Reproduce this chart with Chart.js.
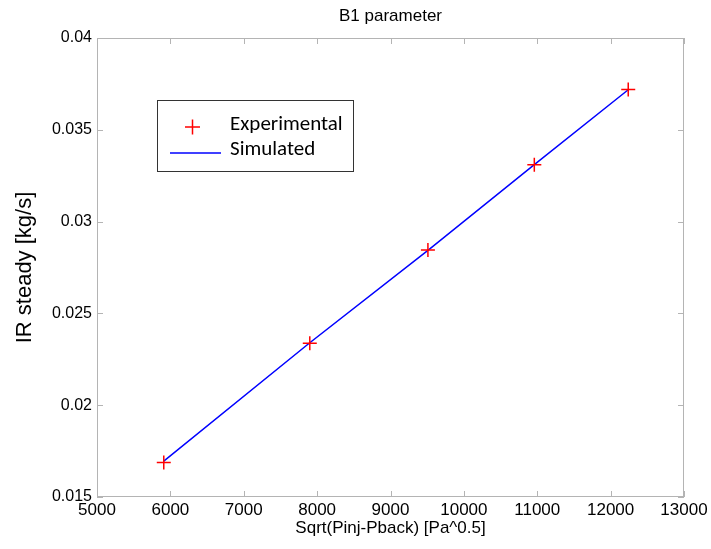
<!DOCTYPE html>
<html>
<head>
<meta charset="utf-8">
<script src="https://cdn.jsdelivr.net/npm/chart.js@4"></script>
<style>
  html, body { margin: 0; padding: 0; background: #fff; }
  #wrap { width: 711px; height: 549px; }
</style>
</head>
<body>
<div id="wrap"><canvas id="myChart" width="711" height="549"></canvas></div>
<script>
// values
const pressureRoot = [5910, 7900, 9510, 10960, 12240];
const experimental = [0.01688, 0.02338, 0.02845, 0.03310, 0.03720];
const simulated = [0.01695, 0.02340, 0.02843, 0.03310, 0.03718];
const xTicks = [5000, 6000, 7000, 8000, 9000, 10000, 11000, 12000, 13000];
const yTicks = [0.015, 0.02, 0.025, 0.03, 0.035, 0.04];

const sans = "'Liberation Sans', Arial, sans-serif";
const frameColor = '#b4b4b4';

const ctx = document.getElementById('myChart').getContext('2d');

// frame, inward ticks, title, y label and the boxed legend
const decorations = {
  id: 'decorations',
  afterDraw(chart) {
    const c = chart.ctx;
    const a = chart.chartArea;
    const xs = chart.scales.x, ys = chart.scales.y;
    c.save();
    c.strokeStyle = frameColor;
    c.lineWidth = 1;
    c.strokeRect(a.left + 0.5, a.top + 0.5, a.right - a.left - 1, a.bottom - a.top - 1);
    c.beginPath();
    xTicks.forEach(v => {
      const px = Math.round(xs.getPixelForValue(v)) + 0.5;
      c.moveTo(px, a.bottom); c.lineTo(px, a.bottom - 6);
      c.moveTo(px, a.top); c.lineTo(px, a.top + 6);
    });
    yTicks.forEach(v => {
      const py = Math.round(ys.getPixelForValue(v)) + 0.5;
      c.moveTo(a.left, py); c.lineTo(a.left + 6, py);
      c.moveTo(a.right, py); c.lineTo(a.right - 6, py);
    });
    c.stroke();

    c.fillStyle = '#000';
    c.textAlign = 'center';
    c.textBaseline = 'middle';
    c.font = '17px ' + sans;
    c.fillText('B1 parameter', (a.left + a.right) / 2, 16);

    c.save();
    c.translate(25, (a.top + a.bottom) / 2);
    c.rotate(-Math.PI / 2);
    c.font = '22px ' + sans;
    c.fillText('IR steady [kg/s]', 0, 0);
    c.restore();

    // legend box
    const lx = 157, ly = 100, lw = 196, lh = 71;
    c.fillStyle = '#fff';
    c.fillRect(lx, ly, lw, lh);
    c.strokeStyle = '#333';
    c.strokeRect(lx + 0.5, ly + 0.5, lw, lh);
    c.strokeStyle = 'red';
    c.lineWidth = 1.5;
    c.beginPath();
    c.moveTo(lx + 28, ly + 27); c.lineTo(lx + 43, ly + 27);
    c.moveTo(lx + 35.5, ly + 19.5); c.lineTo(lx + 35.5, ly + 34.5);
    c.stroke();
    c.strokeStyle = 'blue';
    c.beginPath();
    c.moveTo(lx + 13, ly + 53); c.lineTo(lx + 64, ly + 53);
    c.stroke();
    c.fillStyle = '#000';
    c.textAlign = 'left';
    c.font = "21px Carlito, Lato, 'Open Sans', sans-serif";
    c.fillText('Experimental', lx + 73, ly + 25);
    c.fillText('Simulated', lx + 73, ly + 50);
    c.restore();
  }
};

const data = {
  datasets: [{
    label: 'Simulated',
    data: pressureRoot.map((x, i) => ({ x: x, y: simulated[i] })),
    showLine: true,
    borderColor: 'blue',
    borderWidth: 1.5,
    pointRadius: 0,
    order: 2
  }, {
    label: 'Experimental',
    data: pressureRoot.map((x, i) => ({ x: x, y: experimental[i] })),
    showLine: false,
    pointStyle: 'cross',
    pointRadius: 7,
    borderColor: 'red',
    borderWidth: 1.5,
    order: 1
  }]
};

const config = {
  type: 'scatter',
  data: data,
  options: {
    responsive: false,
    animation: false,
    layout: { padding: { top: 38, right: 27, left: 0, bottom: 0 } },
    plugins: {
      legend: { display: false },
      title: { display: false },
      tooltip: { enabled: false }
    },
    scales: {
      x: {
        type: 'linear',
        min: 5000,
        max: 13000,
        afterBuildTicks: (scale) => { scale.ticks = xTicks.map(v => ({ value: v })); },
        afterFit: (scale) => { scale.height = 52; },
        grid: { display: false, drawTicks: false },
        border: { display: false },
        ticks: {
          color: '#000',
          padding: 3,
          maxRotation: 0,
          font: { family: sans, size: 17 },
          callback: (v) => String(v)
        },
        title: {
          display: true,
          text: 'Sqrt(Pinj-Pback) [Pa^0.5]',
          color: '#000',
          padding: { top: 0, bottom: 10 },
          font: { family: sans, size: 17 }
        }
      },
      y: {
        type: 'linear',
        min: 0.015,
        max: 0.04,
        afterBuildTicks: (scale) => { scale.ticks = yTicks.map(v => ({ value: v })); },
        afterFit: (scale) => { scale.width = 97; },
        grid: { display: false, drawTicks: false },
        border: { display: false },
        ticks: {
          color: '#000',
          padding: 5,
          font: { family: sans, size: 16 },
          callback: (v) => String(+v.toFixed(3))
        }
      }
    }
  },
  plugins: [decorations]
};

const myChart = new Chart(ctx, config);
</script>
</body>
</html>
